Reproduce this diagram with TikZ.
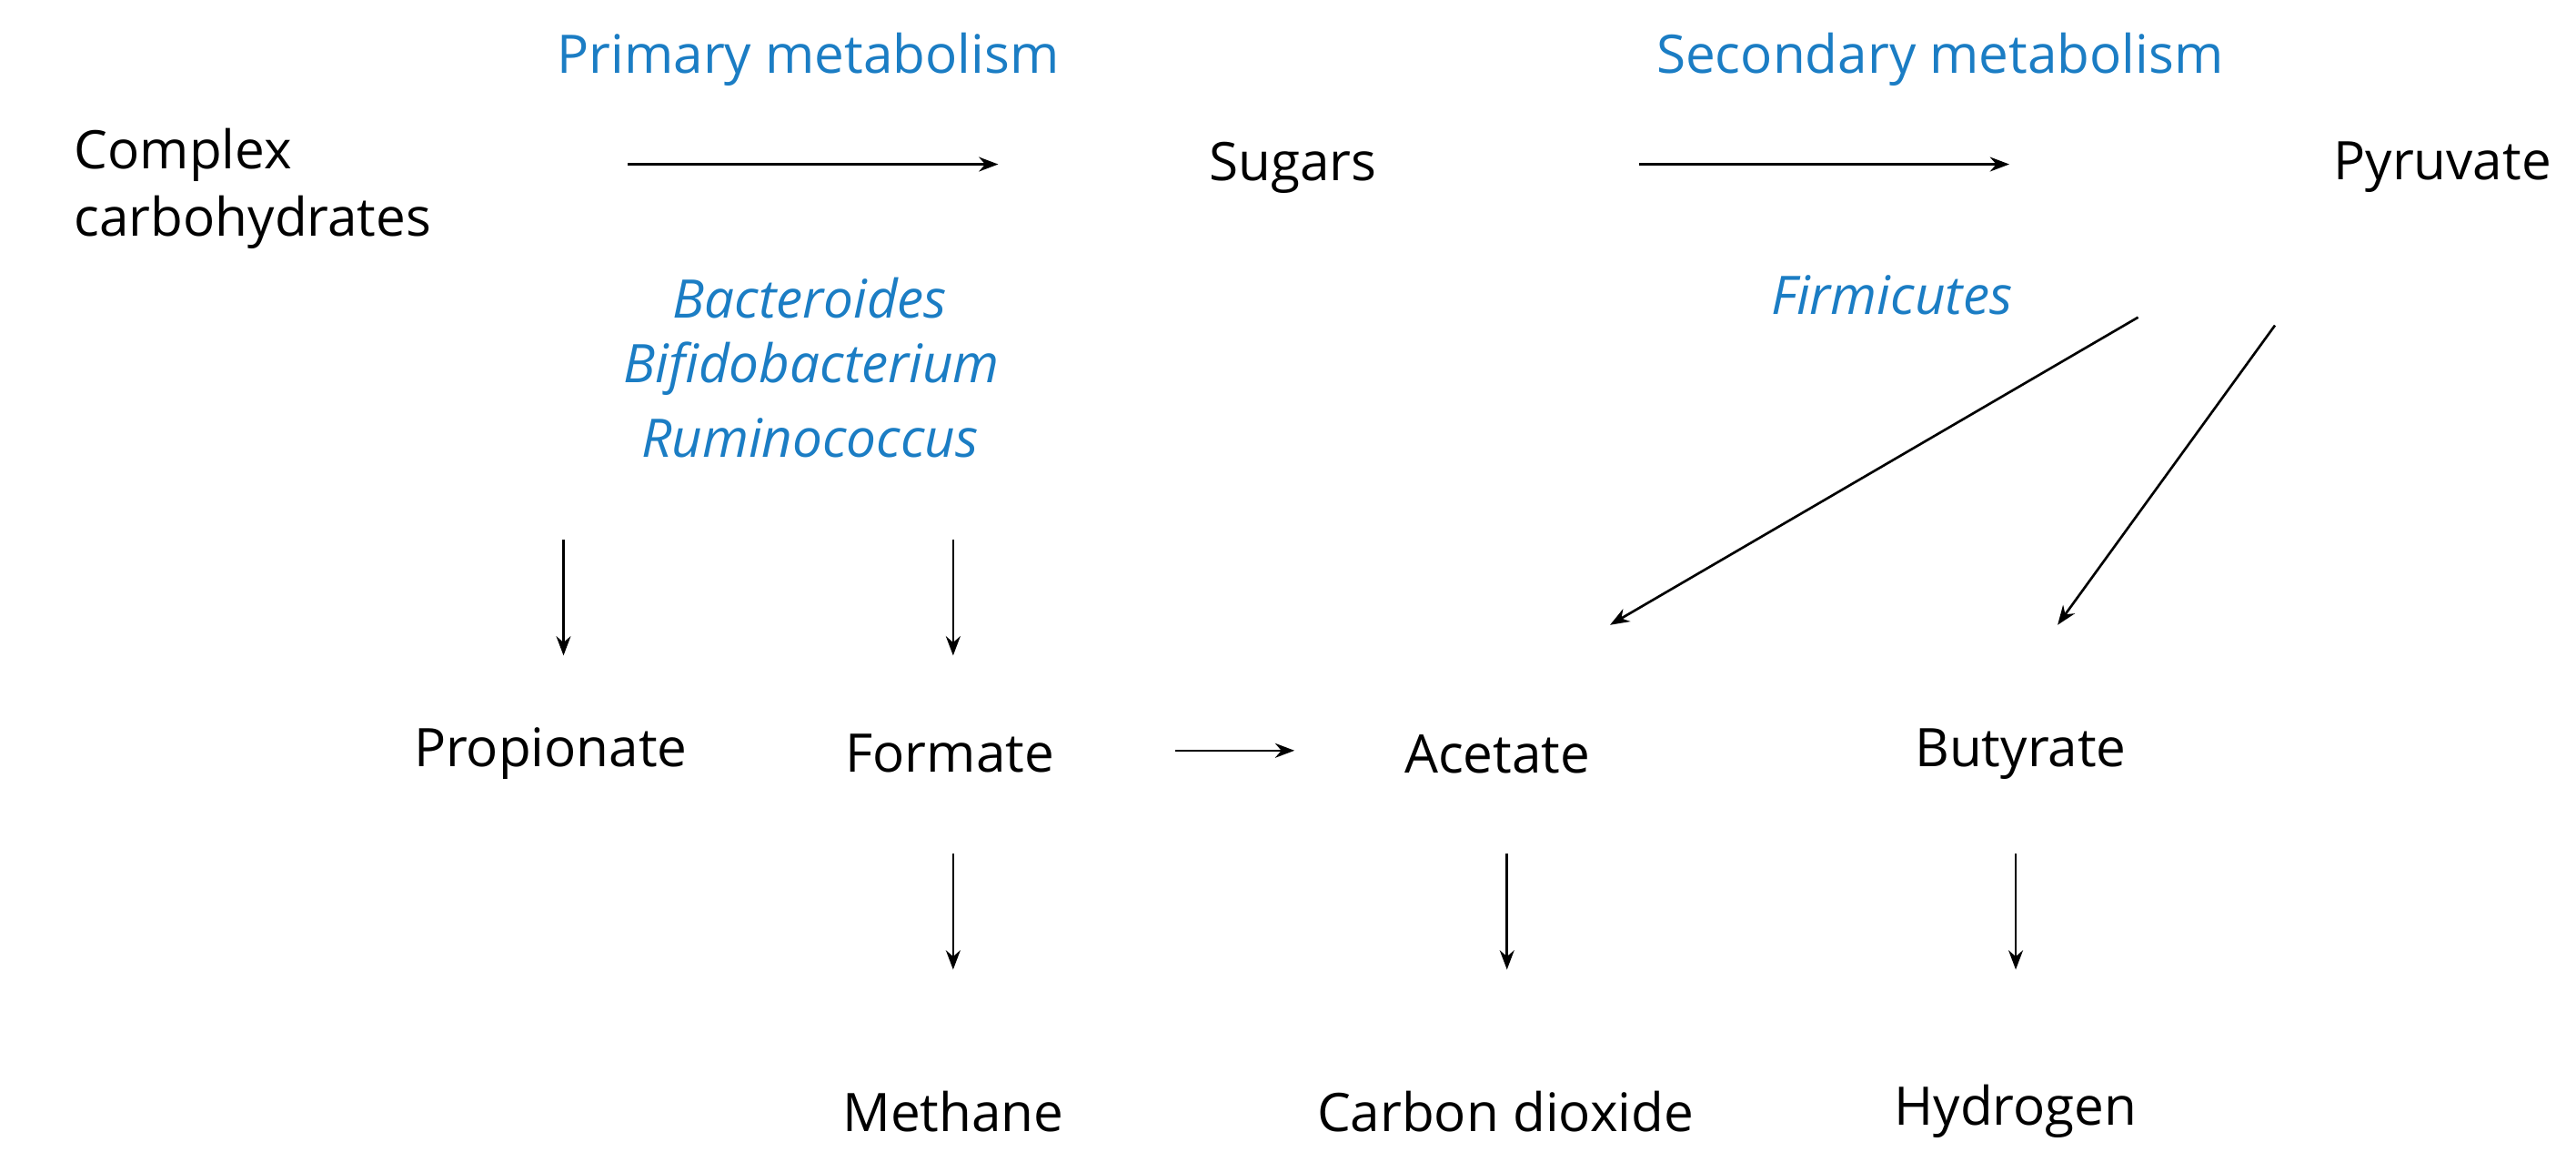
\documentclass[tikz,border=0pt]{standalone}
\usepackage{fontspec}
\setmainfont{Open Sans}
\usetikzlibrary{arrows.meta}
\definecolor{bl}{HTML}{1B7DC4}
\begin{document}
\begin{tikzpicture}[x=1pt,y=-1pt,
  t/.style={font=\fontsize{33}{42}\selectfont,inner sep=0pt},
  b/.style={t,text=bl},
  bi/.style={b,font=\fontsize{33}{42}\selectfont\itshape},
  ar/.style={-{Stealth[length=12pt,width=9pt]},line width=1.5pt}]
\useasboundingbox (0,0) rectangle (1600,715);
\node[t,align=left] (cc) at (157,117) {Complex\\carbohydrates};
\node[b] (pm) at (502,37) {Primary metabolism};
\node[b] (sm) at (1205,37) {Secondary metabolism};
\node[t] (sug) at (803,104) {Sugars};
\node[t] (pyr) at (1517,104) {Pyruvate};
\node[bi] (fir) at (1175,183) {Firmicutes};
\node[bi] (bac) at (503,185) {Bacteroides};
\node[bi] (bif) at (504,229) {Bifidobacterium};
\node[bi] (rum) at (503,272) {Ruminococcus};
\node[t] (pro) at (342,468) {Propionate};
\node[t] (for) at (590,468) {Formate};
\node[t] (ace) at (930,468) {Acetate};
\node[t] (but) at (1255,468) {Butyrate};
\node[t] (met) at (592,690) {Methane};
\node[t] (co2) at (935,690) {Carbon dioxide};
\node[t] (hyd) at (1252,690) {Hydrogen};
\coordinate (a1s) at (390,102); \coordinate (a1e) at (620,102);
\coordinate (a2s) at (1018,102); \coordinate (a2e) at (1248,102);
\draw[ar] (a1s) -- (a1e);
\draw[ar] (a2s) -- (a2e);
\coordinate (d1s) at (350,335); \coordinate (d1e) at (350,407);
\coordinate (d2s) at (592,335); \coordinate (d2e) at (592,407);
\draw[ar] (d1s) -- (d1e);
\draw[ar] (d2s) -- (d2e);
\coordinate (fa1) at (730,466); \coordinate (fa2) at (804,466);
\draw[ar] (fa1) -- (fa2);
\coordinate (p1) at (1328,197); \coordinate (p1e) at (1000,388);
\coordinate (p2) at (1413,202); \coordinate (p2e) at (1278,388);
\draw[ar] (p1) -- (p1e);
\draw[ar] (p2) -- (p2e);
\coordinate (e1s) at (592,530); \coordinate (e1e) at (592,602);
\coordinate (e2s) at (936,530); \coordinate (e2e) at (936,602);
\coordinate (e3s) at (1252,530); \coordinate (e3e) at (1252,602);
\draw[ar] (e1s) -- (e1e);
\draw[ar] (e2s) -- (e2e);
\draw[ar] (e3s) -- (e3e);
\end{tikzpicture}
\end{document}
